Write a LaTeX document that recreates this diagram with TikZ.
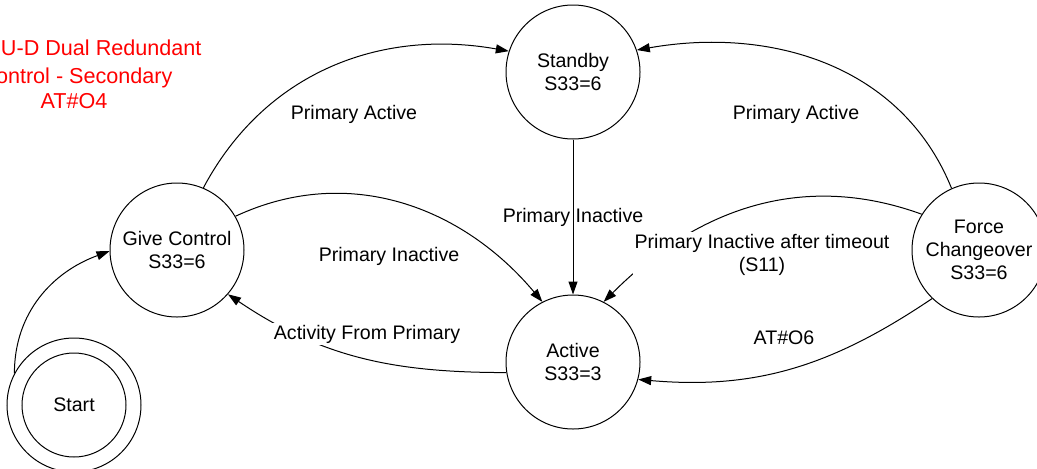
\documentclass[tikz,border=0pt]{standalone}
\usepackage{fontspec}
\setmainfont{Liberation Sans}
\usepackage{xcolor}
\usepackage{tikz}
\usetikzlibrary{arrows.meta}
\definecolor{rood}{RGB}{255,0,0}

\begin{document}
\begin{tikzpicture}[x=0.5pt, y=0.5pt, line width=0.5pt,
    font=\fontsize{9.8}{11.5}\selectfont,
    toestand/.style={circle, draw, minimum size=67pt, inner sep=0pt, align=center},
    overgang/.style={-{Triangle[length=6.5pt, width=4.5pt]}},
    tekst/.style={inner sep=1pt, align=center},
    titel/.style={inner sep=0pt, anchor=base east, text=rood, font=\fontsize{10.8}{12}\selectfont}]
  % Kader
  \path[use as bounding box] (0,0) rectangle (1037,468);
  \clip (0,0) rectangle (1037,468);
  % Titel
  \node[titel] (titel1) at (202,413) {U-D Dual Redundant};
  \node[titel] (titel2) at (173,385) {ontrol - Secondary};
  \node[titel] (titel3) at (108,360) {AT\#O4};
  % Toestanden
  \node[toestand] (stand) at (573,396) {Standby\\S33=6};
  \node[toestand] (geef) at (177,218) {Give Control\\S33=6};
  \node[toestand] (actief) at (573,106) {Active\\S33=3};
  \node[toestand] (forceer) at (979,218) {Force\\Changeover\\S33=6};
  \node[toestand] (start) at (74,63) {Start};
  \draw (start.center) circle[radius=26pt];
  % Overgangen
  \draw[overgang] (geef.67) to[out=62, in=170] (stand.162);
  \draw[overgang] (forceer.114) to[out=112, in=10] (stand.19);
  \draw[overgang] (stand) -- (actief);
  \draw[overgang] (geef.30) to[out=25, in=130] (actief.117);
  \draw[overgang] (forceer.148) to[out=160, in=45] (actief.63);
  \draw[overgang] (forceer.226) to[out=214, in=-5] (actief.345);
  \draw[overgang] (actief.189) to[out=180, in=-34] (geef.319);
  \draw[overgang] (start.152) to[out=90, in=200] (geef.181);
  % Labels
  \node[tekst] (pa1) at (354,354) {Primary Active};
  \node[tekst] (pa2) at (796,354) {Primary Active};
  \node[tekst] (pi1) at (573,251) {Primary Inactive};
  \node[tekst] (pi2) at (389,212) {Primary Inactive};
  \node[tekst, fill=white] (pi3) at (762,213) {Primary Inactive after timeout\\(S11)};
  \node[tekst] (at6) at (784,130) {AT\#O6};
  \node[tekst, fill=white] (afp) at (367,134) {Activity From Primary};
\end{tikzpicture}
\end{document}
